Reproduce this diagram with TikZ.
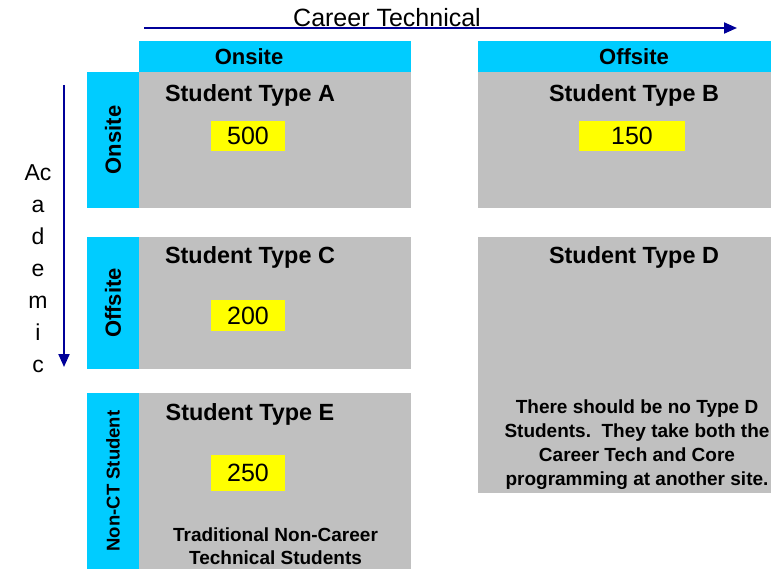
\documentclass[tikz,border=0pt]{standalone}
\usepackage{fontspec}
\setmainfont{Liberation Sans}
\usetikzlibrary{arrows.meta}
\definecolor{hdrblue}{HTML}{00CCFF}
\definecolor{cellgray}{HTML}{C0C0C0}
\definecolor{numyellow}{HTML}{FFFF00}
\definecolor{arrowblue}{HTML}{000099}
\tikzset{
  box/.style={fill=#1, draw=none, inner sep=0pt, outer sep=0pt},
  cell/.style={box=cellgray},
  hdr/.style={box=hdrblue},
  num/.style={box=numyellow, font=\fontsize{25}{28}\selectfont},
  title/.style={font=\fontsize{23.4}{26}\selectfont\bfseries, inner sep=0pt},
  hdrtext/.style={font=\fontsize{22}{26}\selectfont\bfseries, inner sep=0pt},
  axis/.style={draw=arrowblue, line width=2pt, -{Triangle[length=13pt,width=11pt]}},
}
\begin{document}
\begin{tikzpicture}[x=1pt,y=-1pt]
\useasboundingbox (0,0) rectangle (771,569);
% top header boxes
\node[hdr, minimum width=272pt, minimum height=31pt] (hOn) at (275,56.5) {};
\node[hdr, minimum width=293pt, minimum height=31pt] (hOff) at (624.5,56.5) {};
\node[hdrtext] (hOnT) at (249,57) {Onsite};
\node[hdrtext] (hOffT) at (634,57) {Offsite};
% side header boxes
\node[hdr, rotate=90, minimum width=136pt, minimum height=52pt, font=\fontsize{22}{26}\selectfont\bfseries] (sOn) at (113,140) {Onsite};
\node[hdr, rotate=90, minimum width=132pt, minimum height=52pt, font=\fontsize{22}{26}\selectfont\bfseries] (sOff) at (113,303) {Offsite};
\node[hdr, rotate=90, minimum width=176pt, minimum height=52pt, font=\fontsize{18.5}{20}\selectfont\bfseries] (sNon) at (113,481) {Non-CT Student};
% cells
\node[cell, minimum width=272pt, minimum height=136pt] (cA) at (275,140) {};
\node[cell, minimum width=293pt, minimum height=136pt] (cB) at (624.5,140) {};
\node[cell, minimum width=272pt, minimum height=132pt] (cC) at (275,303) {};
\node[cell, minimum width=293pt, minimum height=256pt] (cD) at (624.5,365) {};
\node[cell, minimum width=272pt, minimum height=176pt] (cE) at (275,481) {};
% titles
\node[title] (tA) at (250,95.5) {Student Type A};
\node[title] (tB) at (634,95.5) {Student Type B};
\node[title] (tC) at (250,257.5) {Student Type C};
\node[title] (tD) at (634,257.5) {Student Type D};
\node[title] (tE) at (250,414.5) {Student Type E};
% numbers
\node[num, minimum width=74pt, minimum height=30pt] (nA) at (248,136) {500};
\node[num, minimum width=106pt, minimum height=30pt] (nB) at (632,136) {150};
\node[num, minimum width=74pt, minimum height=31pt] (nC) at (248,315.5) {200};
\node[num, minimum width=74pt, minimum height=36pt] (nE) at (248,473) {250};
% notes
\node[align=center, inner sep=0pt, font=\fontsize{19}{24}\selectfont\bfseries] (noteD) at (637,445)
  {There should be no Type D\\Students.\ \ They take both the\\Career Tech and Core\\programming at another site.};
\node[align=center, inner sep=0pt, font=\fontsize{19}{23}\selectfont\bfseries] (noteE) at (275.5,546.5)
  {Traditional Non-Career\\Technical Students};
% axes
\coordinate (ctStart) at (144,28);
\coordinate (ctEnd) at (737,28);
\draw[axis] (ctStart) -- (ctEnd);
\node[inner sep=0pt, font=\fontsize{25}{28}\selectfont] (ctLabel) at (387,18) {Career Technical};
\coordinate (acStart) at (64,85);
\coordinate (acEnd) at (64,367);
\draw[axis] (acStart) -- (acEnd);
\node[align=center, inner sep=0pt, font=\fontsize{23}{32}\selectfont] (acLabel) at (38,269) {Ac\\a\\d\\e\\m\\i\\c};
\end{tikzpicture}
\end{document}
